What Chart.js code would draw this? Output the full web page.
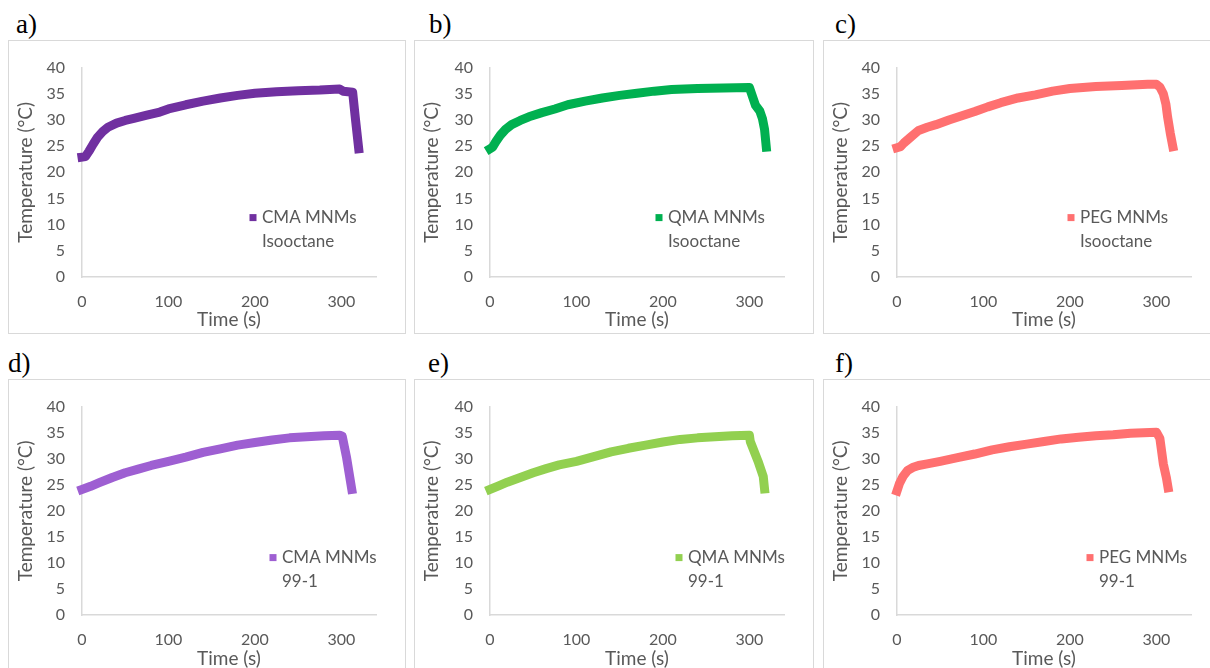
<!DOCTYPE html>
<html lang="en">
<head>
  <meta charset="UTF-8">
  <title>Heating curves of MNM dispersions</title>
  <script src="https://cdn.jsdelivr.net/npm/chart.js@4"></script>
  <style>
    body { margin: 0; width: 1210px; height: 668px; overflow: hidden; position: relative; background: #fff; }
    .frame { position: absolute; border: 1px solid #d9d9d9; background: #fff; }
    .frame canvas { position: absolute; left: 0; top: 0; }
    .tag { position: absolute; font-family: "Liberation Serif", serif; font-size: 27px; line-height: 1; color: #000; }
  </style>
</head>
<body>
  <script>
    // Temperature readings (°C) against time (s) for each dispersion
    const cmaIsoTime = [0, 4, 8, 13, 18, 24, 30, 40, 50, 60, 75, 90, 100, 120, 140, 160, 180, 200, 225, 250, 275, 298, 302, 313, 316, 320];
    const cmaIsoTemp = [22.9, 23.0, 24.0, 25.4, 26.7, 27.8, 28.6, 29.4, 29.9, 30.3, 30.9, 31.5, 32.1, 32.9, 33.6, 34.2, 34.7, 35.1, 35.4, 35.6, 35.7, 35.9, 35.5, 35.3, 30.5, 24.5];

    const qmaIsoTime = [0, 3, 7, 12, 18, 25, 35, 45, 60, 75, 90, 110, 130, 150, 170, 190, 210, 240, 270, 300, 307, 312, 315, 317.5, 319.5];
    const qmaIsoTemp = [24.5, 24.8, 25.9, 27.1, 28.2, 29.1, 29.9, 30.6, 31.4, 32.1, 32.9, 33.6, 34.2, 34.7, 35.1, 35.5, 35.8, 36.0, 36.1, 36.2, 32.8, 31.7, 30.3, 28.2, 24.8];

    const pegIsoTime = [0, 4, 8, 15, 25, 35, 45, 60, 75, 90, 105, 120, 140, 160, 180, 200, 230, 260, 290, 300, 304, 308, 311, 313, 316, 319];
    const pegIsoTemp = [24.7, 24.9, 25.6, 26.6, 28.0, 28.6, 29.1, 30.0, 30.8, 31.6, 32.5, 33.3, 34.2, 34.8, 35.5, 36.0, 36.4, 36.6, 36.8, 36.8, 36.3, 35.0, 33.0, 30.5, 27.5, 24.9];

    const cma991Time = [0, 10, 20, 35, 50, 65, 80, 100, 120, 140, 160, 180, 200, 220, 240, 260, 280, 298, 301, 306, 312];
    const cma991Temp = [24.1, 24.7, 25.4, 26.4, 27.3, 28.0, 28.7, 29.5, 30.3, 31.2, 31.9, 32.6, 33.1, 33.6, 34.0, 34.2, 34.4, 34.5, 34.3, 30.2, 24.1];

    const qma991Time = [0, 10, 20, 35, 50, 65, 80, 100, 120, 140, 160, 180, 200, 220, 240, 260, 280, 300, 301, 310, 316, 317.5];
    const qma991Temp = [24.1, 24.8, 25.5, 26.4, 27.3, 28.1, 28.8, 29.5, 30.4, 31.3, 32.0, 32.6, 33.2, 33.7, 34.0, 34.2, 34.4, 34.5, 33.3, 29.5, 26.6, 24.2];

    const peg991Time = [0, 3, 7, 12, 18, 25, 35, 50, 70, 90, 110, 130, 150, 170, 190, 210, 230, 250, 270, 300, 304, 308, 311.6, 313.5];
    const peg991Temp = [23.8, 25.3, 26.6, 27.7, 28.3, 28.7, 29.0, 29.5, 30.2, 30.9, 31.7, 32.3, 32.8, 33.3, 33.8, 34.1, 34.4, 34.6, 34.9, 35.1, 33.9, 29.0, 26.3, 24.4];

    const xTicks = [0, 100, 200, 300];
    const yTicks = [0, 5, 10, 15, 20, 25, 30, 35, 40];

    const tickFont = { family: 'Lato', size: 16 };
    const titleFont = { family: 'Lato', size: 19 };
    const textGray = '#595959';
    const axisGray = '#d9d9d9';
    const plotWidth = 294;

    const rows = [
      { top: 40, height: 294, plotTop: 13, plotBottom: 236, legendY: 150, tagTop: 11 },
      { top: 379, height: 294, plotTop: 17, plotBottom: 235, legendY: 151, tagTop: 350 }
    ];

    const panels = [
      { tag: 'a)', tagX: 16, row: 0, left: 8, width: 398, axisLeft: 74, time: cmaIsoTime, temp: cmaIsoTemp, color: '#7030a0', names: ['CMA MNMs', 'Isooctane'], legendX: 180 },
      { tag: 'b)', tagX: 429, row: 0, left: 414, width: 400, axisLeft: 76, time: qmaIsoTime, temp: qmaIsoTemp, color: '#00b050', names: ['QMA MNMs', 'Isooctane'], legendX: 178 },
      { tag: 'c)', tagX: 835, row: 0, left: 823, width: 400, axisLeft: 74, time: pegIsoTime, temp: pegIsoTemp, color: '#ff7070', names: ['PEG MNMs', 'Isooctane'], legendX: 183 },
      { tag: 'd)', tagX: 8, row: 1, left: 8, width: 398, axisLeft: 74, time: cma991Time, temp: cma991Temp, color: '#9e5fd2', names: ['CMA MNMs', '99-1'], legendX: 200 },
      { tag: 'e)', tagX: 428, row: 1, left: 414, width: 400, axisLeft: 76, time: qma991Time, temp: qma991Temp, color: '#92d050', names: ['QMA MNMs', '99-1'], legendX: 198 },
      { tag: 'f)', tagX: 835, row: 1, left: 823, width: 400, axisLeft: 74, time: peg991Time, temp: peg991Temp, color: '#ff7070', names: ['PEG MNMs', '99-1'], legendX: 202 }
    ];

    // square marker plus a two-line caption, placed inside the plot area
    const boxLegend = {
      id: 'boxLegend',
      afterDatasetsDraw(chart, args, opts) {
        const { ctx, chartArea } = chart;
        const x = chartArea.left + opts.x;
        const y = chartArea.top + opts.y;
        ctx.save();
        ctx.fillStyle = chart.data.datasets[0].borderColor;
        ctx.fillRect(x - 12.5, y - 3.5, 7, 7);
        ctx.fillStyle = textGray;
        ctx.font = '17px Lato';
        ctx.textBaseline = 'middle';
        opts.lines.forEach((s, i) => ctx.fillText(s, x, y + i * 23.5));
        ctx.restore();
      }
    };

    function makePanel(p) {
      const row = rows[p.row];
      const w = p.width - 2;
      const h = row.height - 2;

      const tag = document.createElement('div');
      tag.className = 'tag';
      tag.textContent = p.tag;
      tag.style.left = p.tagX + 'px';
      tag.style.top = row.tagTop + 'px';
      document.body.appendChild(tag);

      const frame = document.createElement('div');
      frame.className = 'frame';
      Object.assign(frame.style, { left: p.left + 'px', top: row.top + 'px', width: w + 'px', height: h + 'px' });
      const canvas = document.createElement('canvas');
      canvas.width = w;
      canvas.height = h;
      frame.appendChild(canvas);
      document.body.appendChild(frame);

      const plotLeft = p.axisLeft - 1;

      new Chart(canvas, {
        type: 'scatter',
        data: {
          datasets: [{
            label: p.names.join(' '),
            data: p.time.map((t, i) => ({ x: t, y: p.temp[i] })),
            showLine: true,
            borderColor: p.color,
            backgroundColor: p.color,
            borderWidth: 9,
            borderJoinStyle: 'round',
            borderCapStyle: 'square',
            pointRadius: 0,
            tension: 0,
            clip: false
          }]
        },
        options: {
          responsive: false,
          animation: false,
          events: [],
          layout: { padding: { left: 0, top: row.plotTop, right: w - plotLeft - plotWidth, bottom: 0 } },
          plugins: {
            legend: { display: false },
            tooltip: { enabled: false },
            boxLegend: { x: p.legendX, y: row.legendY, lines: p.names }
          },
          scales: {
            x: {
              type: 'linear',
              min: 0,
              max: 340,
              afterBuildTicks: s => { s.ticks = xTicks.map(v => ({ value: v })); },
              afterFit: s => { s.height = h - row.plotBottom; },
              grid: { drawOnChartArea: false, drawTicks: false },
              border: { color: axisGray, width: 1.5 },
              ticks: { color: textGray, font: tickFont, padding: 15, maxRotation: 0 },
              title: { display: true, text: 'Time (s)', color: textGray, font: titleFont, padding: { top: 0, bottom: 2 } }
            },
            y: {
              type: 'linear',
              min: 0,
              max: 40,
              afterBuildTicks: s => { s.ticks = yTicks.map(v => ({ value: v })); },
              afterFit: s => { s.width = plotLeft; },
              grid: { drawOnChartArea: false, drawTicks: false },
              border: { color: axisGray, width: 1.5 },
              ticks: { color: textGray, font: tickFont, padding: 17 },
              title: { display: true, text: 'Temperature (°C)', color: textGray, font: titleFont, padding: { top: 5, bottom: 0 } }
            }
          }
        },
        plugins: [boxLegend]
      });
    }

    panels.forEach(makePanel);
  </script>
</body>
</html>
